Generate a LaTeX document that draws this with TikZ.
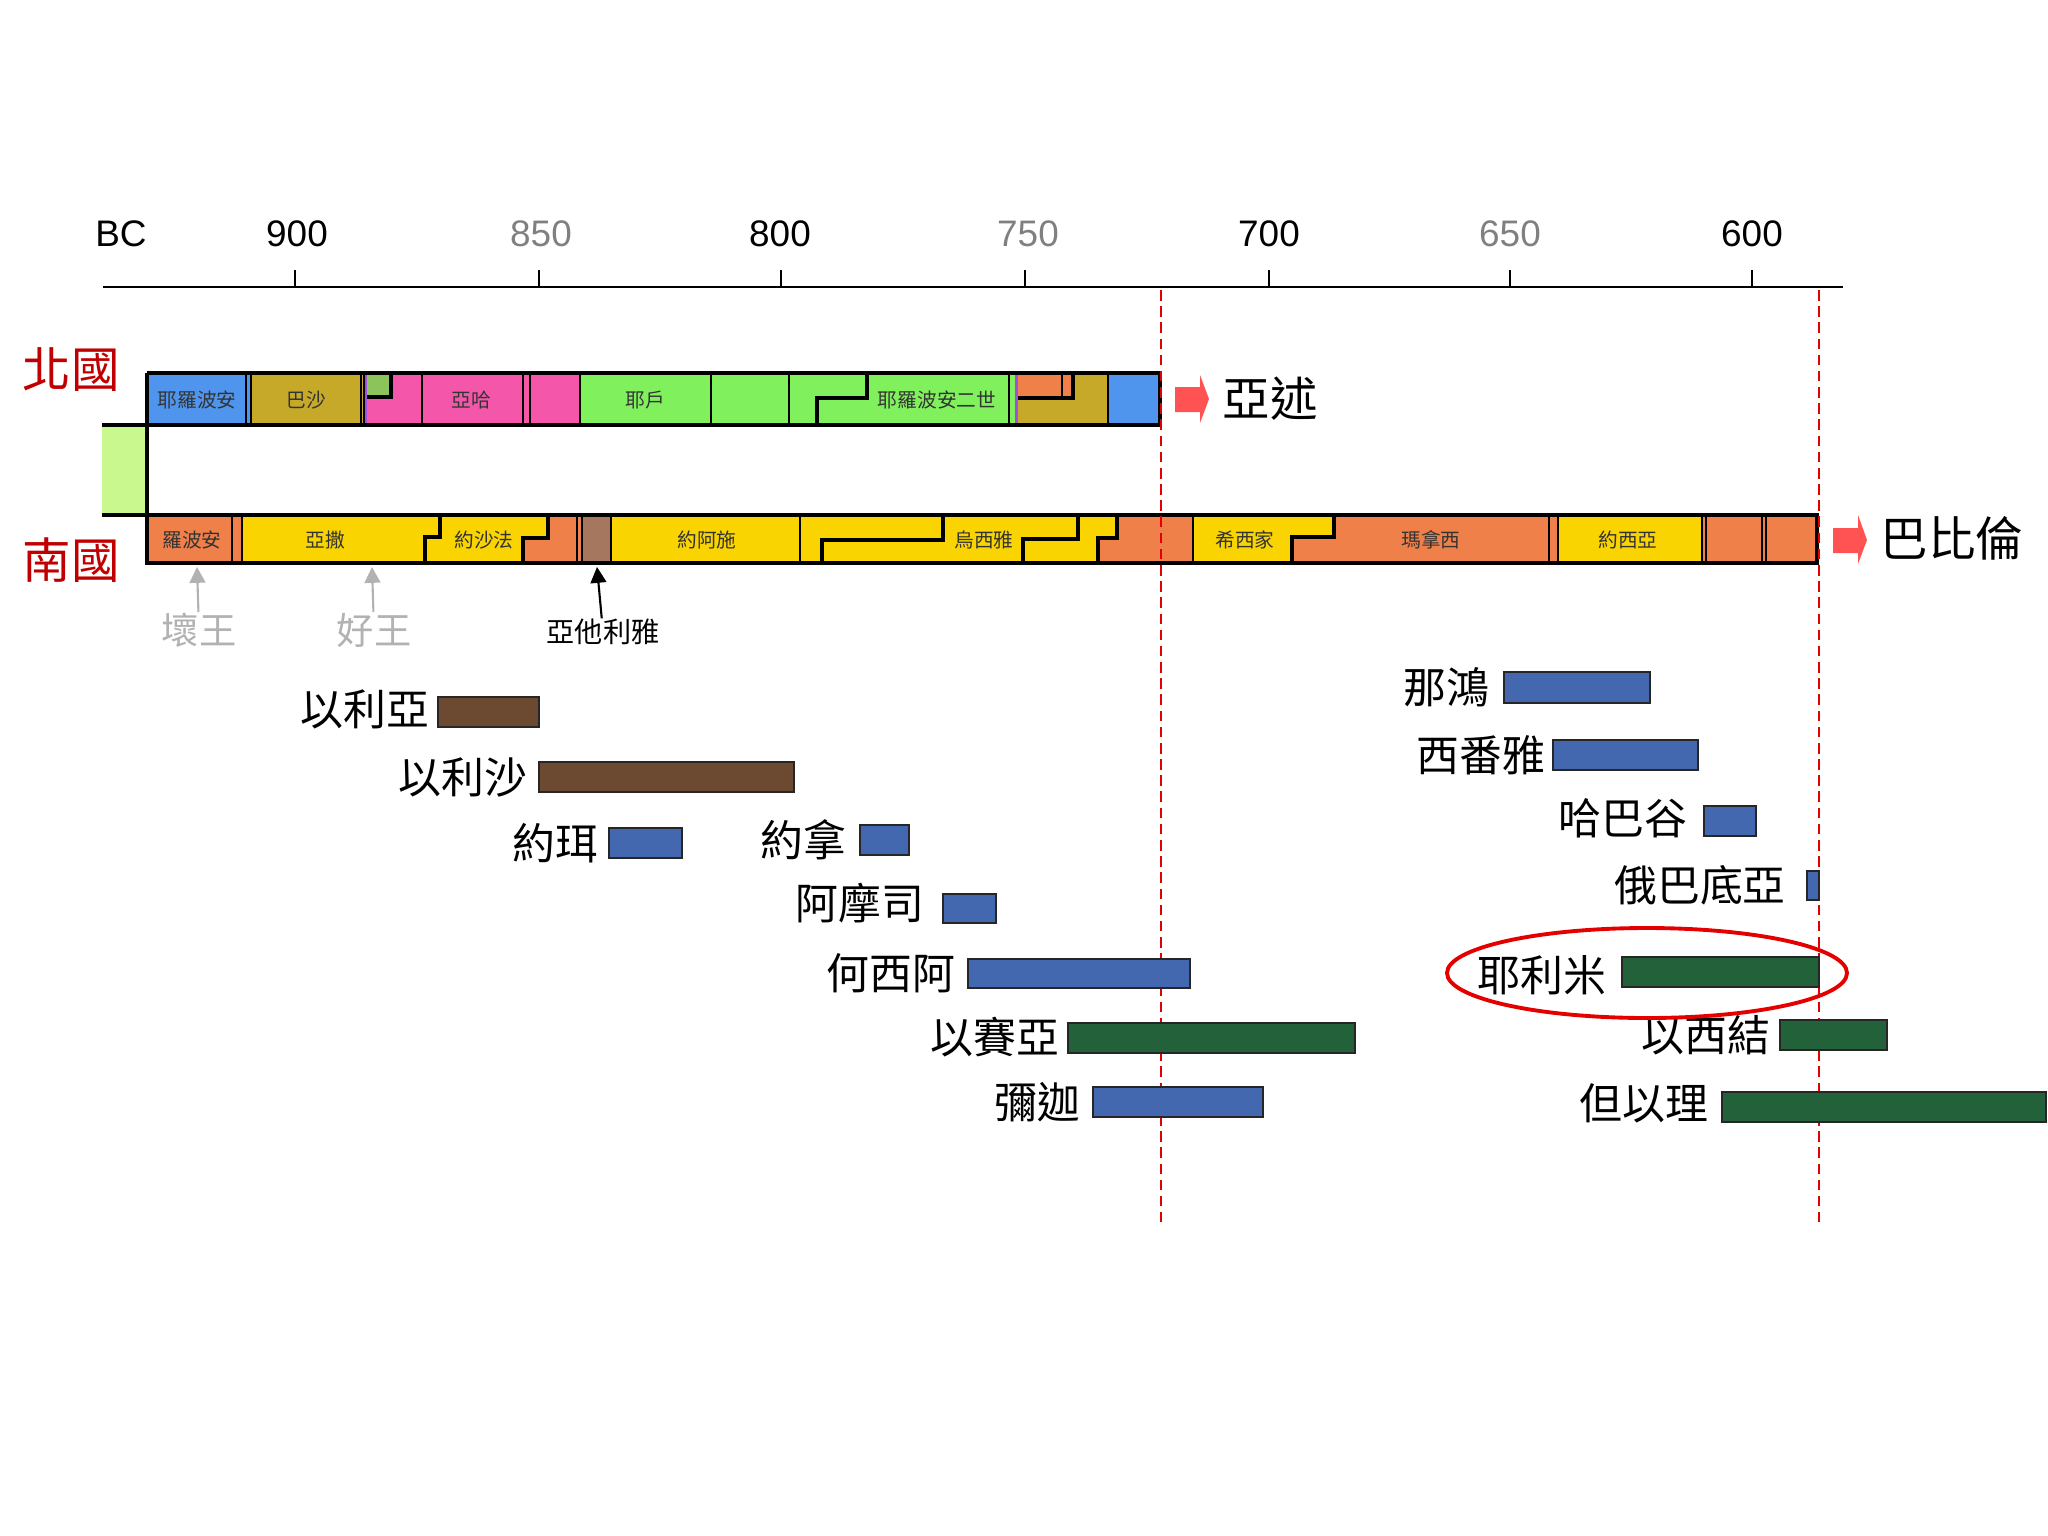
\documentclass[tikz,border=0pt]{standalone}
\usepackage{fontspec}
\usepackage{tikz}
\usetikzlibrary{arrows.meta}
\newfontfamily\cjk{Noto Sans CJK TC}
\newfontfamily\arialfont{Liberation Sans}
\definecolor{nblue}{HTML}{4F95EE}
\definecolor{olivebar}{HTML}{C6A928}
\definecolor{pinkbar}{HTML}{F456AA}
\definecolor{tibni}{HTML}{8BC45A}
\definecolor{limebar}{HTML}{80F05C}
\definecolor{zimri}{HTML}{A050E0}
\definecolor{orangebar}{HTML}{F0804A}
\definecolor{yellowbar}{HTML}{F9D400}
\definecolor{athaliah}{HTML}{A5775F}
\definecolor{unitedgreen}{HTML}{C8F88E}
\definecolor{arrowred}{HTML}{FF5252}
\definecolor{kingdomred}{HTML}{C00000}
\definecolor{pblue}{HTML}{4468B0}
\definecolor{pgreen}{HTML}{23613A}
\definecolor{pbrown}{HTML}{6B4A31}
\tikzset{
  % outline of the two kingdom bars
  baredge/.style={line width=1pt},
  divider/.style={line width=0.45pt},
  % co-regency steps
  stepline/.style={line width=0.9pt},
  kingname/.style={font=\cjk\fontsize{5.6pt}{6pt}\selectfont, text=black!80, inner sep=0pt},
  prophet/.style={font=\cjk\fontsize{12.2pt}{13pt}\selectfont, inner sep=0pt},
  pbar/.style={draw=black!85, line width=0.5pt},
  yearlabel/.style={font=\arialfont\fontsize{10.5pt}{12pt}\selectfont, inner sep=0pt},
  fall/.style={red!90!black, dash pattern=on 3pt off 1.6pt, line width=0.6pt},
  ptr/.style={line width=0.6pt, -{Triangle[width=4.5pt,length=4.5pt]}},
  big/.style={font=\cjk\fontsize{13.5pt}{14pt}\selectfont, inner sep=0pt},
}
\begin{document}
\begin{tikzpicture}[x=0.01cm,y=-0.01cm]
\useasboundingbox (0,0) rectangle (2048,1536);

% time axis
\draw[line width=0.8pt] (103,287) -- (1843,287);
\foreach \x in {295,539,781,1025,1269,1510,1752}
  \draw[line width=0.4pt] (\x,270) -- (\x,287);
\node[yearlabel] (bc) at (121,234) {BC};
\node[yearlabel] (y900) at (297,234) {900};
\node[yearlabel, text=gray] (y850) at (541,234) {850};
\node[yearlabel] (y800) at (780,234) {800};
\node[yearlabel, text=gray] (y750) at (1028,234) {750};
\node[yearlabel] (y700) at (1269,234) {700};
\node[yearlabel, text=gray] (y650) at (1510,234) {650};
\node[yearlabel] (y600) at (1752,234) {600};

% kingdom names
\node[big, text=kingdomred, font=\cjk\fontsize{13.8pt}{14pt}\selectfont] (north) at (71,370) {北國};
\node[big, text=kingdomred, font=\cjk\fontsize{13.8pt}{14pt}\selectfont] (south) at (71,560) {南國};

% united kingdom
\fill[unitedgreen] (102,425) rectangle (147,515);

% north kingdom
\fill[nblue] (147,373) rectangle (251,425);
\fill[olivebar] (251,373) rectangle (364,425);
\fill[zimri] (364,373) rectangle (367,425);
\fill[pinkbar] (367,373) rectangle (580,425);
\fill[tibni] (367,373) rectangle (391,397);
\draw[stepline] (367,397) -- (391,397) -- (391,373);
\fill[limebar] (580,373) rectangle (1015,425);
\fill[zimri] (1015,373) rectangle (1018,425);
\fill[olivebar] (1018,373) rectangle (1108,425);
\fill[orangebar] (1018,373) rectangle (1073,398);
\draw[stepline] (1018,398) -- (1073,398) -- (1073,373);
\draw[divider] (1062,373) -- (1062,398);
\fill[nblue] (1108,373) rectangle (1160,425);
\foreach \x in {246,251,361,364,422,523,530,580,711,789,1009,1108}
  \draw[divider] (\x,373) -- (\x,425);
\draw[stepline] (817,425) -- (817,398) -- (867,398) -- (867,373);
\draw[baredge] (147,373) -- (1160,373) -- (1160,425);
\draw[baredge] (102,425) -- (1160,425);

\node[kingname] (jeroboam) at (197,400) {耶羅波安};
\node[kingname] (baasha) at (306,400) {巴沙};
\node[kingname] (ahab) at (471,400) {亞哈};
\node[kingname] (jehu) at (645,400) {耶戶};
\node[kingname] (jeroboam2) at (937,400) {耶羅波安二世};

% south kingdom
\fill[orangebar] (147,515) rectangle (242,563);
\fill[yellowbar] (242,515) rectangle (582,563);
\fill[orangebar] (548,515) -- (582,515) -- (582,563) -- (523,563) -- (523,538) -- (548,538) -- cycle;
\fill[athaliah] (582,515) rectangle (611,563);
\fill[yellowbar] (611,515) rectangle (1193,563);
\fill[orangebar] (1117,515) -- (1193,515) -- (1193,563) -- (1098,563) -- (1098,538) -- (1117,538) -- cycle;
\fill[yellowbar] (1193,515) rectangle (1558,563);
\fill[orangebar] (1334,515) -- (1558,515) -- (1558,563) -- (1292,563) -- (1292,537) -- (1334,537) -- cycle;
\fill[yellowbar] (1558,515) rectangle (1702,563);
\fill[orangebar] (1702,515) rectangle (1817,563);
\foreach \x in {232,242,577,582,611,800,1193,1549,1558,1702,1706,1762,1766}
  \draw[divider] (\x,515) -- (\x,563);
\draw[stepline] (440,515) -- (440,537) -- (425,537) -- (425,563);
\draw[stepline] (548,515) -- (548,538) -- (523,538) -- (523,563);
\draw[stepline] (943,515) -- (943,540) -- (822,540) -- (822,563);
\draw[stepline] (1078,515) -- (1078,539) -- (1023,539) -- (1023,563);
\draw[stepline] (1117,515) -- (1117,538) -- (1098,538) -- (1098,563);
\draw[stepline] (1334,515) -- (1334,537) -- (1292,537) -- (1292,563);
\draw[baredge] (102,515) -- (1817,515) -- (1817,563) -- (147,563) -- (147,373);

\node[kingname] (rehoboam) at (192,540) {羅波安};
\node[kingname] (asa) at (325,540) {亞撒};
\node[kingname] (jehoshaphat) at (484,540) {約沙法};
\node[kingname] (joash) at (707,540) {約阿施};
\node[kingname] (uzziah) at (984,540) {烏西雅};
\node[kingname] (hezekiah) at (1245,540) {希西家};
\node[kingname] (manasseh) at (1431,540) {瑪拿西};
\node[kingname] (josiah) at (1628,540) {約西亞};

% exile
\fill[arrowred] (1175,387) -- (1200,387) -- (1200,375) -- (1209,399) -- (1200,423) -- (1200,412) -- (1175,412) -- cycle;
\node[big] (assyria) at (1270,399) {亞述};
\fill[arrowred] (1833,528) -- (1858,528) -- (1858,515) -- (1867,540) -- (1858,564) -- (1858,553) -- (1833,553) -- cycle;
\node[big] (babylon) at (1952,538) {巴比倫};

\draw[fall] (1161,290) -- (1161,1222);
\draw[fall] (1819,290) -- (1819,1222);

% good and bad kings
\node[kingname, text=black!30, font=\cjk\fontsize{10.6pt}{11pt}\selectfont] (bad) at (199,630) {壞王};
\node[kingname, text=black!30, font=\cjk\fontsize{10.6pt}{11pt}\selectfont] (good) at (374,630) {好王};
\node[kingname, text=black, font=\cjk\fontsize{8pt}{9pt}\selectfont] (athal) at (603,632) {亞他利雅};
\coordinate (badtip) at (197,567);
\coordinate (goodtip) at (372,567);
\coordinate (athaltip) at (597,567);
\draw[ptr, black!30] (bad) -- (badtip);
\draw[ptr, black!30] (good) -- (goodtip);
\draw[ptr] (athal) -- (athaltip);

% prophets
\fill[pbar, fill=pbrown] (438,697) rectangle (539,727);
\node[prophet] (elijah) at (365,709) {以利亞};
\fill[pbar, fill=pbrown] (539,762) rectangle (794,792);
\node[prophet] (elisha) at (463,777) {以利沙};
\fill[pbar, fill=pblue] (609,828) rectangle (682,858);
\node[prophet] (joel) at (555,843) {約珥};
\fill[pbar, fill=pblue] (860,825) rectangle (909,855);
\node[prophet] (jonah) at (803,840) {約拿};
\fill[pbar, fill=pblue] (943,894) rectangle (996,923);
\node[prophet] (amos) at (860,903) {阿摩司};
\fill[pbar, fill=pblue] (968,959) rectangle (1190,988);
\node[prophet] (hosea) at (891,973) {何西阿};
\fill[pbar, fill=pgreen] (1068,1023) rectangle (1355,1053);
\node[prophet] (isaiah) at (995,1037) {以賽亞};
\fill[pbar, fill=pblue] (1093,1087) rectangle (1263,1117);
\node[prophet] (micah) at (1037,1102) {彌迦};

\fill[pbar, fill=pblue] (1504,672) rectangle (1650,703);
\node[prophet] (nahum) at (1446,687) {那鴻};
\fill[pbar, fill=pblue] (1553,740) rectangle (1698,770);
\node[prophet] (zephaniah) at (1481,755) {西番雅};
\fill[pbar, fill=pblue] (1704,806) rectangle (1756,836);
\node[prophet] (habakkuk) at (1623,818) {哈巴谷};
\fill[pbar, fill=pblue] (1807,871) rectangle (1819,900);
\node[prophet] (obadiah) at (1700,885) {俄巴底亞};
\fill[pbar, fill=pgreen] (1622,957) rectangle (1819,987);
\node[prophet] (jeremiah) at (1542,975) {耶利米};
\fill[pbar, fill=pgreen] (1780,1020) rectangle (1887,1050);
\node[prophet] (ezekiel) at (1706,1035) {以西結};
\fill[pbar, fill=pgreen] (1722,1092) rectangle (2046,1122);
\node[prophet] (daniel) at (1644,1103) {但以理};

\draw[red!90!black, line width=1.1pt] (1647,973) ellipse [x radius=200, y radius=45];
\end{tikzpicture}
\end{document}
